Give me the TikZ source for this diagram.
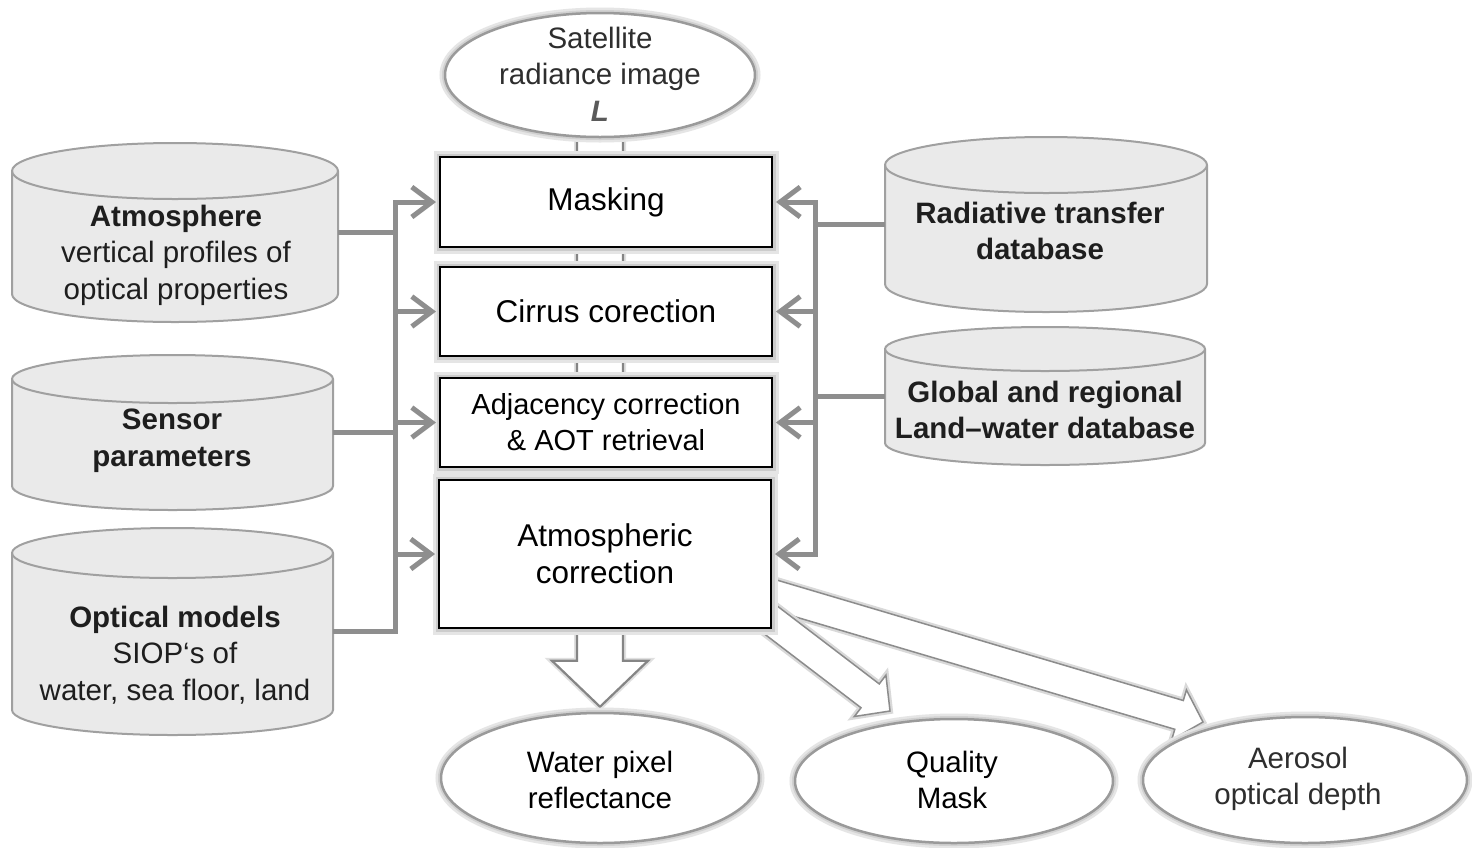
\documentclass[tikz,border=0pt]{standalone}
\usepackage{fontspec}
\setmainfont{Liberation Sans}
\usetikzlibrary{shapes.geometric,arrows.meta,calc}
\definecolor{conngray}{HTML}{8E8E8E}
\definecolor{cylfill}{HTML}{EAEAEA}
\definecolor{cylline}{HTML}{A0A0A0}
\definecolor{txtdark}{HTML}{1E1E1E}
\definecolor{txtgray}{HTML}{2E2E2E}
\definecolor{Lgray}{HTML}{5A5A5A}
\definecolor{ellline}{HTML}{9A9A9A}
\pgfdeclarelayer{bgzero}
\pgfdeclarelayer{bgone}
\pgfsetlayers{bgzero,bgone,main}
\newcommand{\dbcyl}[5]{%
  \pgfmathsetmacro\cylrx{(#2-#1)/2}%
  \filldraw[cylstyle] (#1,#4) arc[start angle=180,end angle=360,x radius=\cylrx pt,y radius=#5pt] -- (#2,#3) arc[start angle=0,end angle=180,x radius=\cylrx pt,y radius=#5pt] -- cycle;
  \draw[cylstyle,fill=none] (#2,#3) arc[start angle=0,end angle=-180,x radius=\cylrx pt,y radius=#5pt];
}
\tikzset{
  cylstyle/.style={draw=cylline, fill=cylfill, line width=2pt},
  anchorbox/.style={rectangle, inner sep=0pt, draw=none},
  conn/.style={draw=conngray, line width=5pt},
  arr/.style={-{Straight Barb[length=20pt,width=30pt]}, shorten >=3pt},
  procbox/.style={rectangle, draw=black, line width=2pt, fill=white, minimum width=332pt, inner sep=0pt, align=center,
    font=\fontsize{31.5}{37}\selectfont,
    preaction={draw=black!10, line width=13pt}, preaction={draw=black!20, line width=7pt}},
  ellnode/.style={ellipse, draw=ellline, line width=2.5pt, fill=white, inner sep=0pt,
    preaction={draw=black!10, line width=11pt}, preaction={draw=black!18, line width=6pt}},
  txt/.style={align=center, inner sep=0pt, font=\fontsize{29.5}{36.5}\selectfont, text=txtdark},
  blockarrow/.style={fill=white, draw=black!45, line width=1.5pt, line join=miter,
    preaction={draw=black!15, line width=6pt}},
  hollow/.style={fill=white, draw=black!48, line width=2.2pt, line join=miter,
    preaction={draw=black!12, line width=6pt}},
}
\begin{document}
\begin{tikzpicture}[x=1pt,y=-1pt]
\begin{pgfonlayer}{bgzero}
  \fill[white] (0,0) rectangle (1472,847);
\end{pgfonlayer}
\useasboundingbox (0,0) rectangle (1472,847);

% top input
\node[ellnode, minimum width=310pt, minimum height=124pt] (sat) at (600,75) {};
\node[txt, text=txtgray] (satT) at (600,74) {Satellite\\radiance image\\{\bfseries\itshape\color{Lgray}L}};

% processing boxes
\node[procbox, minimum height=90pt] (mask) at (606,202) {Masking};
\node[procbox, minimum height=89pt] (cir) at (606,311.5) {Cirrus corection};
\node[procbox, minimum height=89pt, font=\fontsize{29}{36}\selectfont] (adj) at (606,422.5) {Adjacency correction\\\& AOT retrieval};
\node[procbox, minimum height=148pt] (atmc) at (605,554) {Atmospheric\\correction};

% outputs
\node[ellnode, minimum width=318pt, minimum height=130pt] (wat) at (600,778) {};
\node[ellnode, minimum width=318pt, minimum height=124pt] (qual) at (954,781) {};
\node[ellnode, minimum width=324pt, minimum height=126pt] (aer) at (1305,780) {};
\node[txt, text=black] (watT) at (600,780) {Water pixel\\reflectance};
\node[txt, text=black] (qualT) at (952,780) {Quality\\Mask};
\node[txt, text=txtgray] (aerT) at (1298,779) {Aerosol\\optical depth};

% block arrows (behind)
\begin{pgfonlayer}{bgone}
  \coordinate (s2) at ($(atmc.south east)+(-11,-38)$);
  \coordinate (t2) at ($(aer.center)+(-102,-58)$);
  \coordinate (h2) at ($(t2)!25pt!(s2)$);
  \path[blockarrow] ($(s2)!15pt!90:(t2)$) -- ($(h2)!15pt!90:(t2)$) -- ($(h2)!26pt!90:(t2)$) -- (t2)
     -- ($(h2)!26pt!-90:(t2)$) -- ($(h2)!15pt!-90:(t2)$) -- ($(s2)!15pt!-90:(t2)$) -- cycle;
  \coordinate (s1) at ($(atmc.south east)+(-26,-28)$);
  \coordinate (t1) at ($(qual.center)+(-64,-70)$);
  \coordinate (h1) at ($(t1)!25pt!(s1)$);
  \path[blockarrow] ($(s1)!15pt!90:(t1)$) -- ($(h1)!15pt!90:(t1)$) -- ($(h1)!26pt!90:(t1)$) -- (t1)
     -- ($(h1)!26pt!-90:(t1)$) -- ($(h1)!15pt!-90:(t1)$) -- ($(s1)!15pt!-90:(t1)$) -- cycle;
  \path[hollow] ($(sat.center)+(-23,0)$) -- ($(wat.north)+(-23,-51)$) -- ($(wat.north)+(-48,-51)$)
     -- ($(wat.north)+(0,-5)$) -- ($(wat.north)+(48,-51)$) -- ($(wat.north)+(23,-51)$)
     -- ($(sat.center)+(23,0)$) -- cycle;
\end{pgfonlayer}

% databases (left)
\dbcyl{12}{338}{171}{294}{28}
\node[anchorbox, minimum width=326pt, minimum height=180pt] (atm) at (175,232) {};
\node[txt] (atmT) at (176,255) {\textbf{Atmosphere}\\vertical profiles of\\optical properties};

\dbcyl{12}{333}{379}{486}{24}
\node[anchorbox, minimum width=321pt, minimum height=155pt] (sen) at (172.5,432.5) {};
\node[txt] (senT) at (172,441) {\textbf{Sensor}\\\textbf{parameters}};

\dbcyl{12}{333}{553}{710}{25}
\node[anchorbox, minimum width=321pt, minimum height=207pt] (opt) at (172.5,631.5) {};
\node[txt] (optT) at (175,655) {\textbf{Optical models}\\SIOP‘s of\\water, sea floor, land};

% databases (right)
\dbcyl{885}{1207}{165}{284}{28}
\node[anchorbox, minimum width=322pt, minimum height=175pt] (rad) at (1046,224.5) {};
\node[txt] (radT) at (1040,231) {\textbf{Radiative transfer}\\\textbf{database}};

\dbcyl{885}{1205}{349}{443}{22}
\node[anchorbox, minimum width=320pt, minimum height=138pt] (glob) at (1045,396) {};
\node[txt] (globT) at (1045,410) {\textbf{Global and regional}\\\textbf{Land–water database}};

% connectors left
\coordinate (busL) at (395,0);
\coordinate (busR) at (815,0);
\draw[conn, arr] (opt.east) -- (opt.east -| busL) -- (mask.west -| busL) -- (mask.west);
\draw[conn] (atm.east) -- (atm.east -| busL);
\draw[conn] (sen.east) -- (sen.east -| busL);
\draw[conn, arr] (cir.west -| busL) -- (cir.west);
\draw[conn, arr] (adj.west -| busL) -- (adj.west);
\draw[conn, arr] (atmc.west -| busL) -- (atmc.west);

% connectors right
\draw[conn, {Straight Barb[length=20pt,width=30pt]}-{Straight Barb[length=20pt,width=30pt]}, shorten <=3pt, shorten >=3pt]
  (mask.east) -- (mask.east -| busR) -- (atmc.east -| busR) -- (atmc.east);
\draw[conn] (rad.west) -- (rad.west -| busR);
\draw[conn] (glob.west) -- (glob.west -| busR);
\draw[conn, arr] (cir.east -| busR) -- (cir.east);
\draw[conn, arr] (adj.east -| busR) -- (adj.east);
\end{tikzpicture}
\end{document}
